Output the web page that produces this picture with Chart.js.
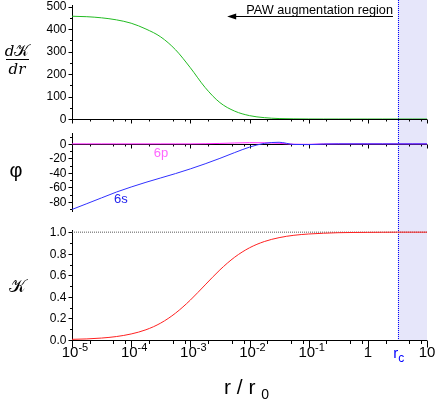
<!DOCTYPE html>
<html>
<head>
<meta charset="utf-8">
<script src="https://cdn.jsdelivr.net/npm/chart.js@4"></script>
<style>
  body { margin: 0; background: #fff; width: 435px; height: 407px; overflow: hidden; position: relative; }
  canvas { position: absolute; left: 0; }
</style>
</head>
<body>
<canvas id="g1" width="435" height="126" style="top:0"></canvas>
<canvas id="g2" width="435" height="94" style="top:126px"></canvas>
<canvas id="g3" width="435" height="187" style="top:220px"></canvas>
<script>
// sample radii (r / r0), quarter decades
const r = [1e-5, 1.78e-5, 3.16e-5, 5.62e-5, 1e-4, 1.78e-4, 3.16e-4, 5.62e-4, 1e-3, 1.78e-3, 3.16e-3, 5.62e-3,
           1e-2, 1.78e-2, 3.16e-2, 5.62e-2, 0.1, 0.178, 0.316, 0.562, 1, 1.78, 3.16, 5.62, 10];
const dKdr  = [457, 455, 450, 441, 426, 400, 365, 308, 228, 140, 73, 35, 15, 6, 2, 0.7, 0.2, 0, 0, 0, 0, 0, 0, 0, 0];
const phi6s = [-90.5, -82.5, -74.5, -66.5, -59.5, -53, -47, -41, -34.5, -27.5, -20, -12, -4.5, 0.7, 2.2, -0.8, -1.0, -0.2, 0, 0, 0, 0, 0, 0, 0];
const phi6p = [0, 0, 0, 0, 0, 0, 0, 0, 0, 0.2, 0.6, 1.2, 1.6, 1.5, 0.8, -0.5, -0.6, -0.1, 0, 0, 0, 0, 0, 0, 0];
const kappa = [0.006, 0.010, 0.018, 0.032, 0.056, 0.095, 0.157, 0.249, 0.370, 0.511, 0.650, 0.768, 0.855,
               0.913, 0.949, 0.971, 0.983, 0.990, 0.995, 0.997, 0.998, 0.999, 1, 1, 1];
const unity = r.map(() => 1);

const rc = 3.2;
const xMajor = [1e-5, 1e-4, 1e-3, 1e-2, 1e-1, 1, 10];
const xMinorMult = [2, 5, 8];
const xLabels = [['10', '-5'], ['10', '-4'], ['10', '-3'], ['10', '-2'], ['10', '-1'], ['1', ''], ['10', '']];

const SANS = '"Liberation Sans", Arial, sans-serif';
const SERIF = '"DejaVu Serif", "Liberation Serif", serif';

function pts(vals) {
  return vals.map((v, i) => ({ x: r[i], y: v }));
}

function drawParts(ctx, parts, cx, baseY, color) {
  ctx.fillStyle = color;
  ctx.textAlign = 'left';
  ctx.textBaseline = 'alphabetic';
  let w = 0;
  parts.forEach(p => { ctx.font = p.font; p.w = ctx.measureText(p.t).width; w += p.w; });
  let xx = cx - w / 2;
  parts.forEach(p => { ctx.font = p.font; ctx.fillText(p.t, xx, baseY + (p.dy || 0)); xx += p.w; });
}

// shading, rc line and axes, drawn under the curves
function decor(o) {
  return {
    id: 'decor',
    beforeDatasetsDraw(chart) {
      const { ctx, chartArea: a, scales: { x, y } } = chart;
      ctx.save();
      const xs = x.getPixelForValue(rc), xe = x.getPixelForValue(10);
      const bot = o.shadeToCanvas ? chart.height : a.bottom;
      ctx.fillStyle = '#e6e6fa';
      ctx.fillRect(xs, 0, xe - xs, bot);
      ctx.strokeStyle = '#0000ff';
      ctx.lineWidth = 1;
      ctx.setLineDash([1, 1]);
      ctx.beginPath();
      ctx.moveTo(Math.round(xs) + 0.5, 0);
      ctx.lineTo(Math.round(xs) + 0.5, bot);
      ctx.stroke();
      ctx.setLineDash([]);

      // y axis
      ctx.strokeStyle = '#000';
      const ax = Math.floor(a.left) + 0.5;
      ctx.beginPath();
      ctx.moveTo(ax, a.top);
      ctx.lineTo(ax, a.bottom);
      o.yMajor.forEach(v => { const p = Math.round(y.getPixelForValue(v)) + 0.5; ctx.moveTo(ax - 4, p); ctx.lineTo(ax, p); });
      o.yMinor.forEach(v => { const p = Math.round(y.getPixelForValue(v)) + 0.5; ctx.moveTo(ax - 2.5, p); ctx.lineTo(ax, p); });
      // x axis at zero
      const y0 = Math.round(y.getPixelForValue(0)) + 0.5;
      ctx.moveTo(a.left, y0);
      ctx.lineTo(a.right, y0);
      xMajor.forEach((v, i) => {
        const p = Math.round(x.getPixelForValue(v)) + 0.5;
        ctx.moveTo(p, y0); ctx.lineTo(p, y0 + o.majLen);
        if (i < xMajor.length - 1) {
          xMinorMult.forEach(m => {
            const q = Math.round(x.getPixelForValue(v * m)) + 0.5;
            ctx.moveTo(q, y0); ctx.lineTo(q, y0 + o.minLen);
          });
        }
      });
      ctx.stroke();

      // y tick labels
      ctx.fillStyle = '#000';
      ctx.font = '12px ' + SANS;
      ctx.textAlign = 'right';
      ctx.textBaseline = 'middle';
      o.yMajor.forEach(v => ctx.fillText(o.fmt(v), ax - 6, y.getPixelForValue(v) + 0.5));
      ctx.restore();
    },
    afterDatasetsDraw(chart) {
      if (o.after) o.after(chart);
    }
  };
}

function baseOptions(yMin, yMax, pad) {
  return {
    responsive: false,
    animation: false,
    layout: { padding: pad },
    plugins: { legend: { display: false }, tooltip: { enabled: false } },
    scales: {
      x: { type: 'logarithmic', min: 1e-5, max: 10, display: false },
      y: { min: yMin, max: yMax, display: false }
    },
    elements: { point: { radius: 0 }, line: { borderWidth: 1, cubicInterpolationMode: 'monotone' } }
  };
}

// top panel: dK/dr
new Chart(document.getElementById('g1'), {
  type: 'line',
  data: { datasets: [{ data: pts(dKdr), borderColor: '#22bb22' }] },
  options: baseOptions(0, 507, { left: 72, right: 8, top: 5, bottom: 7 }),
  plugins: [decor({
    shadeToCanvas: true, majLen: 4, minLen: 2,
    yMajor: [0, 100, 200, 300, 400, 500], yMinor: [50, 150, 250, 350, 450],
    fmt: v => String(v),
    after(chart) {
      const { ctx, scales: { x, y } } = chart;
      ctx.save();
      const x1 = x.getPixelForValue(4.2e-3), x2 = x.getPixelForValue(2.66);
      const ya = Math.round(y.getPixelForValue(458)) + 0.5;
      ctx.strokeStyle = '#000';
      ctx.lineWidth = 1;
      ctx.beginPath();
      ctx.moveTo(x1 + 6, ya); ctx.lineTo(x2, ya);
      ctx.stroke();
      ctx.fillStyle = '#000';
      ctx.beginPath();
      ctx.moveTo(x1, ya); ctx.lineTo(x1 + 9, ya - 3); ctx.lineTo(x1 + 9, ya + 3); ctx.closePath();
      ctx.fill();
      ctx.font = '12.7px ' + SANS;
      ctx.textAlign = 'right';
      ctx.textBaseline = 'alphabetic';
      ctx.fillText('PAW augmentation region', x2, y.getPixelForValue(467));
      // y title: dK / dr
      drawParts(ctx, [
        { t: 'd', font: 'italic 15px ' + SERIF },
        { t: '\u{1D4A6}', font: '16px ' + SERIF }
      ], 17, 56, '#000');
      drawParts(ctx, [{ t: 'dr', font: 'italic 15px ' + SERIF }], 17, 74, '#000');
      ctx.beginPath();
      ctx.moveTo(6, 59.5); ctx.lineTo(29, 59.5);
      ctx.stroke();
      ctx.restore();
    }
  })]
});

// middle panel: phi
new Chart(document.getElementById('g2'), {
  type: 'line',
  data: {
    datasets: [
      { data: pts(phi6s), borderColor: '#3030ff' },
      { data: pts(phi6p), borderColor: '#ff20ff' }
    ]
  },
  options: baseOptions(-94, 15, { left: 72, right: 8, top: 7, bottom: 8 }),
  plugins: [decor({
    shadeToCanvas: true, majLen: 4, minLen: 2,
    yMajor: [0, -20, -40, -60, -80], yMinor: [10, -10, -30, -50, -70, -90],
    fmt: v => String(v),
    after(chart) {
      const { ctx, scales: { x, y } } = chart;
      ctx.save();
      ctx.font = '13px ' + SANS;
      ctx.textAlign = 'center';
      ctx.textBaseline = 'middle';
      ctx.fillStyle = '#ff66ff';
      ctx.fillText('6p', x.getPixelForValue(3.2e-4), y.getPixelForValue(-12.6));
      ctx.fillStyle = '#2222ee';
      ctx.fillText('6s', x.getPixelForValue(6.7e-5), y.getPixelForValue(-76.7));
      ctx.fillStyle = '#000';
      ctx.font = '20px ' + SANS;
      ctx.fillText('\u03C6', 16, 45);
      ctx.restore();
    }
  })]
});

// bottom panel: K
new Chart(document.getElementById('g3'), {
  type: 'line',
  data: {
    datasets: [
      { data: pts(kappa), borderColor: '#ff2020' },
      { data: pts(unity), borderColor: '#555', borderDash: [1, 1] }
    ]
  },
  options: baseOptions(0, 1.02, { left: 72, right: 8, top: 10, bottom: 67 }),
  plugins: [decor({
    shadeToCanvas: false, majLen: 7, minLen: 3.5,
    yMajor: [0, 0.2, 0.4, 0.6, 0.8, 1.0], yMinor: [0.1, 0.3, 0.5, 0.7, 0.9],
    fmt: v => v.toFixed(1),
    after(chart) {
      const { ctx, chartArea: a, scales: { x } } = chart;
      ctx.save();
      const base = 137;
      xMajor.forEach((v, i) => {
        const lab = xLabels[i];
        drawParts(ctx, [
          { t: lab[0], font: '15px ' + SANS },
          { t: lab[1], font: '11px ' + SANS, dy: -6 }
        ], x.getPixelForValue(v) + (lab[1] ? 3 : 0), base, '#000');
      });
      drawParts(ctx, [
        { t: 'r', font: '15px ' + SANS },
        { t: 'c', font: '12px ' + SANS, dy: 4 }
      ], x.getPixelForValue(rc) + 1, base + 1, '#0000ff');
      drawParts(ctx, [
        { t: 'r / r ', font: '21px ' + SANS },
        { t: '0', font: '14px ' + SANS, dy: 5 }
      ], (a.left + a.right) / 2 - 3, 174, '#000');
      drawParts(ctx, [{ t: '\u{1D4A6}', font: '18px ' + SERIF }], 17, 72, '#000');
      ctx.restore();
    }
  })]
});
</script>
</body>
</html>
